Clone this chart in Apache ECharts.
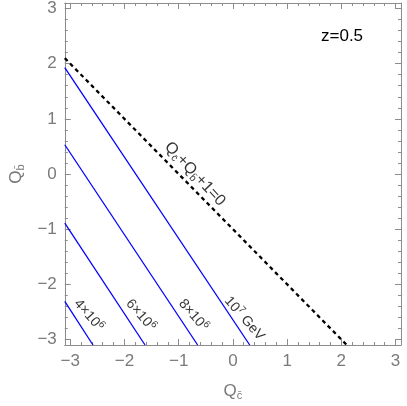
<!DOCTYPE html>
<html>
<head>
<meta charset="utf-8">
<script src="https://cdn.jsdelivr.net/npm/echarts@6/dist/echarts.min.js"></script>
<style>
  html, body { margin: 0; padding: 0; background: #fff; }
  #chart { width: 407px; height: 406px; }
</style>
</head>
<body>
<div id="chart"></div>
<script>
// contour levels of the cut-off scale (mantissa, exponent, unit)
const levelMantissa = ['4×', '6×', '8×', '']
const levelExponent = ['6', '6', '6', '7']
const levelUnit = ['', '', '', ' GeV']
// each contour is straight: where it enters at the left frame and leaves at the bottom
const leftEdgeQb = [-2.31, -0.89, 0.53, 1.93]     // Q_b at Q_c = -3.1
const bottomEdgeQc = [-2.58, -1.62, -0.65, 0.31]  // Q_c at Q_b = -3.1
// where the contour labels sit
const labelQc = [-2.66, -1.70, -0.73, 0.21]
const labelQb = [-2.56, -2.56, -2.56, -2.62]
// boundary Q_c + Q_b + 1 = 0
const boundaryQc = [-3.1, 2.1]
const boundaryQb = [2.1, -3.1]
const boundaryLabelAt = [-0.70, 0.0]

const axisMin = -3.1
const axisMax = 3.1

const gray = '#8c8c8c'
const labelGray = '#7a7a7a'
const font = 'Liberation Sans'

const subRich = {
  q: { fontSize: 17, fontFamily: font, color: labelGray },
  s: { fontSize: 11, fontFamily: font, color: labelGray, padding: [9, 0, 0, 0] }
}
const blackRich = {
  q: { fontSize: 16, fontFamily: font, color: '#000' },
  s: { fontSize: 10, fontFamily: font, color: '#000', padding: [9, 0, 0, 0] }
}
const levelRich = {
  n: { fontSize: 14, fontFamily: font, color: '#000' },
  p: { fontSize: 10, fontFamily: font, color: '#000', padding: [0, 0, 8, 0] }
}

function frameAxis(position, showLabels) {
  return {
    type: 'value',
    position: position,
    min: axisMin,
    max: axisMax,
    splitNumber: 6,
    axisLine: { show: true, onZero: false, lineStyle: { color: gray, width: 1 } },
    axisTick: { show: true, inside: true, length: 6, lineStyle: { color: gray } },
    minorTick: { show: true, splitNumber: 5, length: 3, lineStyle: { color: gray } },
    splitLine: { show: false },
    axisLabel: {
      show: showLabels,
      showMinLabel: false,
      showMaxLabel: false,
      color: labelGray,
      fontSize: 17,
      fontFamily: font,
      margin: 8,
      formatter: v => (v < 0 ? '\u2212' + Math.abs(v) : String(v))
    }
  }
}

const xBottom = frameAxis('bottom', true)
xBottom.name = '{q|Q}{s|c\u0304}'
xBottom.nameLocation = 'middle'
xBottom.nameGap = 36
xBottom.nameTextStyle = { rich: subRich }
const yLeft = frameAxis('left', true)
yLeft.name = '{q|Q}{s|b\u0304}'
yLeft.nameLocation = 'middle'
yLeft.nameGap = 36
yLeft.nameTextStyle = { rich: subRich }

const contourSeries = levelExponent.map((e, i) => ({
  type: 'line',
  data: [[axisMin, leftEdgeQb[i]], [bottomEdgeQc[i], axisMin]],
  showSymbol: false,
  symbol: 'none',
  lineStyle: { color: '#0000ff', width: 1.3 },
  silent: true,
  z: 3
}))

const option = {
  backgroundColor: '#fff',
  animation: false,
  grid: { left: 56, right: 6, top: 3, bottom: 55 },
  xAxis: [xBottom, frameAxis('top', false)],
  yAxis: [yLeft, frameAxis('right', false)],
  graphic: [{
    type: 'text',
    left: 321,
    top: 28,
    style: { text: 'z=0.5', fontSize: 17, fontFamily: font, fill: '#000' }
  }],
  series: [
    ...contourSeries,
    {
      type: 'line',
      data: boundaryQc.map((x, i) => [x, boundaryQb[i]]),
      showSymbol: false,
      symbol: 'none',
      lineStyle: { color: '#000', width: 2.3, type: [4, 3.5] },
      z: 4
    },
    {
      type: 'scatter',
      symbolSize: 0,
      data: levelExponent.map((e, i) => ({
        value: [labelQc[i], labelQb[i]],
        name: '{n|' + levelMantissa[i] + '10}{p|' + e + '}' + (levelUnit[i] ? '{n|' + levelUnit[i] + '}' : '')
      })),
      label: {
        show: true,
        position: 'inside',
        rotate: -49,
        formatter: p => p.name,
        rich: levelRich
      },
      z: 5
    },
    {
      type: 'scatter',
      symbolSize: 0,
      data: [{ value: boundaryLabelAt, name: 'boundary' }],
      label: {
        show: true,
        position: 'inside',
        rotate: -47,
        formatter: '{q|Q}{s|c\u0304}{q|+Q}{s|b\u0304}{q|+1=0}',
        rich: blackRich
      },
      z: 5
    }
  ]
}

const chart = echarts.init(document.getElementById('chart'), null, { renderer: 'canvas' })
chart.setOption(option)
</script>
</body>
</html>
